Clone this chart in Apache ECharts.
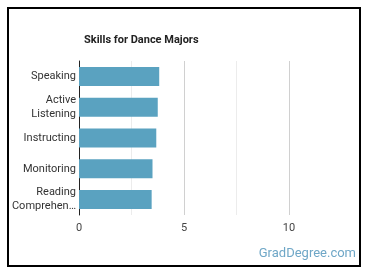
<!DOCTYPE html>
<html lang="en">
<head>
	<meta charset="UTF-8">
	<title>Skills for Dance Majors</title>
	<script type="text/javascript" src="https://cdn.jsdelivr.net/npm/echarts@6/dist/echarts.min.js"></script>
	<style>
		html, body { margin: 0; padding: 0; background: #fff; }
		#main { width: 370px; height: 278px; }
	</style>
</head>
<body>
	<div id="main"></div>
	<script type="text/javascript">
		var skills = ['Speaking', 'Active\nListening', 'Instructing', 'Monitoring', 'Reading\nComprehen…'];
		var scores = [3.82, 3.75, 3.68, 3.5, 3.46];
		var xTicks = [0, 5, 10];

		var myChart = echarts.init(document.getElementById('main'));
		var option = {
			animation: false,
			textStyle: { fontFamily: 'Roboto' },
			title: {
				text: 'Skills for Dance Majors',
				left: 79,
				top: 30,
				textStyle: { fontSize: 11, fontWeight: 'bold', color: '#222', fontFamily: 'Roboto' }
			},
			grid: { left: 79, top: 61, width: 262.5, height: 154, containLabel: false },
			xAxis: {
				type: 'value',
				min: 0,
				max: 12.5,
				interval: 2.5,
				axisLine: { show: false },
				axisTick: { show: false },
				axisLabel: {
					margin: 8,
					fontSize: 11,
					color: '#444',
					formatter: function (v) { return xTicks.indexOf(v) >= 0 ? String(v) : ''; }
				},
				splitLine: {
					lineStyle: { color: ['#ddd', '#ececec', '#d0d0d0', '#ececec', '#d0d0d0', 'rgba(0,0,0,0)'] }
				}
			},
			yAxis: {
				type: 'category',
				data: skills,
				inverse: true,
				axisLine: { show: true, lineStyle: { color: '#222', width: 1 } },
				axisTick: { show: false },
				axisLabel: { margin: 3, fontSize: 11, color: '#333', lineHeight: 14 }
			},
			series: [{
				type: 'bar',
				data: scores,
				barWidth: 19,
				itemStyle: { color: '#5aa2c0' }
			}],
			graphic: [
				{
					type: 'rect',
					shape: { x: 8, y: 8, width: 352, height: 258 },
					style: { fill: 'none', stroke: '#000', lineWidth: 2 }
				},
				{
					type: 'text',
					right: 14,
					top: 247,
					style: { text: 'GradDegree.com', fontSize: 13, fill: '#6fa7c7', fontFamily: 'Roboto' }
				}
			]
		};
		myChart.setOption(option);
	</script>
</body>
</html>
